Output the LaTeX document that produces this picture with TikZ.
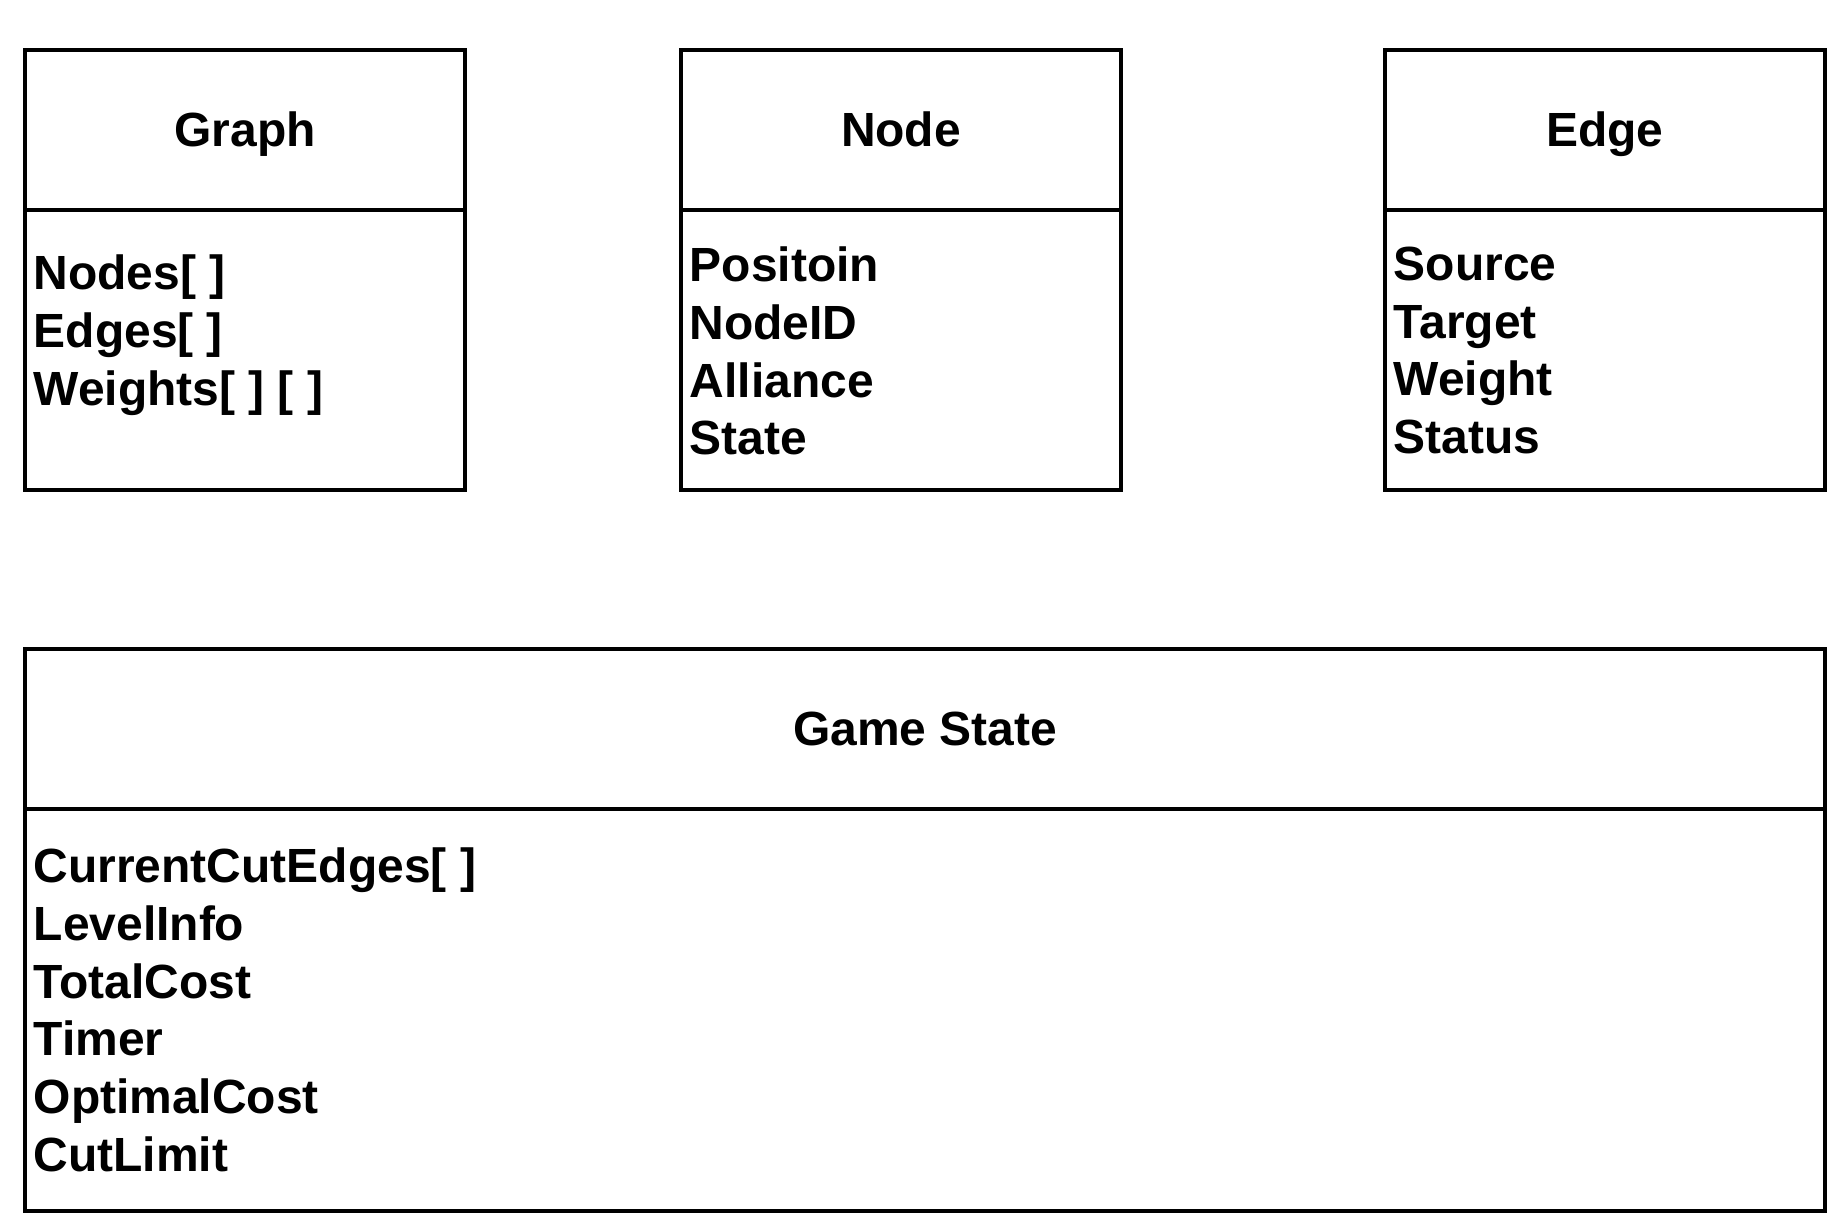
\documentclass[tikz,border=0pt]{standalone}
\usepackage{fontspec}
\setmainfont{Liberation Sans}
\usetikzlibrary{positioning}
\begin{document}
\begin{tikzpicture}[
	classhead/.style={draw=black, line width=1.1pt, minimum width=4.4cm, minimum height=1.6cm, inner sep=0pt, outer sep=0pt, font=\fontsize{13.65pt}{16.45pt}\selectfont\bfseries, text height=12.3pt, text depth=2.9pt},
	classbody/.style={draw=black, line width=1.1pt, minimum width=4.4cm, minimum height=2.8cm, inner sep=0pt, outer sep=0pt},
	attr/.style={anchor=north west, align=left, inner sep=0pt, font=\fontsize{13.65pt}{16.45pt}\selectfont\bfseries}]
	\useasboundingbox (0,0) rectangle (18.44,12.12);
	% top row of classes
	\node[classhead] (graphhead) at (2.45,10.82) {Graph};
	\node[classbody, below=0pt of graphhead] (graphbody) {};
	\node[attr] (graphattr) at ([shift={(0.08,-0.44)}]graphbody.north west) {Nodes[ ]\\Edges[ ]\\Weights[ ] [ ]};
	\node[classhead] (nodehead) at (9.01,10.82) {Node};
	\node[classbody, below=0pt of nodehead] (nodebody) {};
	\node[attr] (nodeattr) at ([shift={(0.08,-0.36)}]nodebody.north west) {Positoin\\NodeID\\Alliance\\State};
	\node[classhead] (edgehead) at (16.05,10.82) {Edge};
	\node[classbody, below=0pt of edgehead] (edgebody) {};
	\node[attr] (edgeattr) at ([shift={(0.08,-0.36)}]edgebody.north west) {Source\\Target\\Weight\\Status};
	% game state
	\node[classhead, minimum width=18cm] (gamehead) at (9.25,4.83) {Game State};
	\node[classbody, minimum width=18cm, minimum height=4.02cm, below=0pt of gamehead] (gamebody) {};
	\node[attr] (gameattr) at ([shift={(0.08,-0.38)}]gamebody.north west) {CurrentCutEdges[ ]\\LevelInfo\\TotalCost\\Timer\\OptimalCost\\CutLimit};
\end{tikzpicture}
\end{document}
